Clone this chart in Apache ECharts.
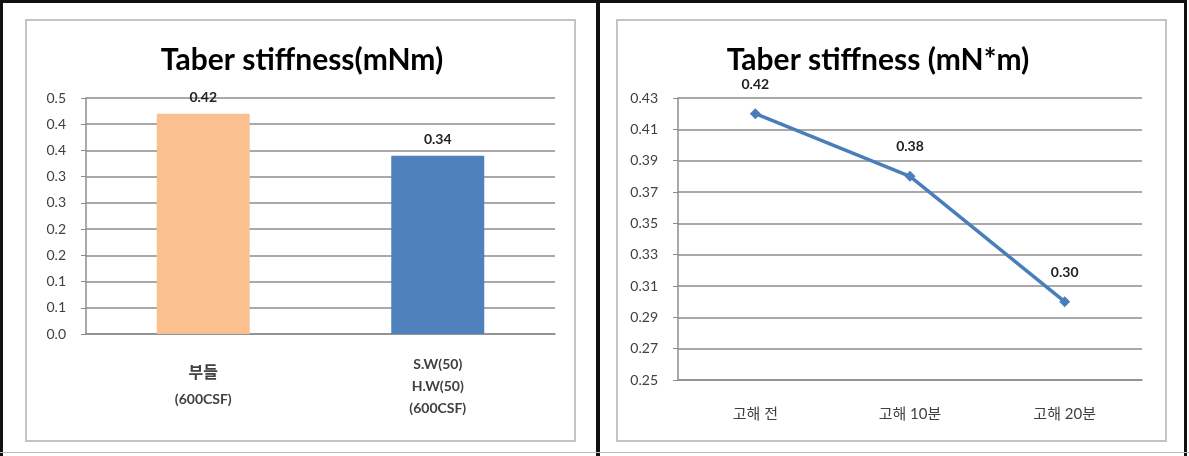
<!DOCTYPE html>
<html>
<head>
<meta charset="utf-8">
<script src="https://cdn.jsdelivr.net/npm/echarts@6/dist/echarts.min.js"></script>
<style>
  html, body { margin: 0; padding: 0; background: #fff; }
  #wrap { position: relative; width: 1189px; height: 456px; overflow: hidden; }
  .frame { position: absolute; border: 3px solid #111; border-bottom: none; }
  .box { position: absolute; border: 2px solid #c4c4c4; }
  #main { position: absolute; left: 0; top: 0; width: 1189px; height: 456px; }
</style>
</head>
<body>
<div id="wrap">
  <div class="frame" style="left:0;top:0;width:594px;height:456px;"></div>
  <div class="frame" style="left:596px;top:0;width:585px;height:456px;"></div>
  <div style="position:absolute;left:0;top:452px;width:1189px;height:1px;background:#bbb;"></div>
  <div class="box" style="left:25px;top:19px;width:547px;height:419px;"></div>
  <div class="box" style="left:616px;top:19px;width:547px;height:419px;"></div>
  <div id="main"></div>
</div>
<script>
// 왼쪽: 막대 그래프
var barCategories = ["부들\n(600CSF)", "S.W(50)\nH.W(50)\n(600CSF)"];
var barValues = [0.42, 0.34];
var barColors = ["#FAC090", "#4F81BD"];
var barTickLabels = ["0.0", "0.1", "0.1", "0.2", "0.2", "0.3", "0.3", "0.4", "0.4", "0.5"];

// 오른쪽: 꺾은선 그래프
var lineCategories = ["고해 전", "고해 10분", "고해 20분"];
var lineValues = [0.42, 0.38, 0.30];
var lineTickLabels = ["0.25", "0.27", "0.29", "0.31", "0.33", "0.35", "0.37", "0.39", "0.41", "0.43"];

var FONT = "Lato, 'Noto Sans CJK KR', sans-serif";
var GRID_COLOR = "#8c8c8c";
var TEXT_COLOR = "#404040";

var myChart = echarts.init(document.getElementById("main"));

var option = {
    animation: false,
    title: [
        {
            text: "Taber stiffness(mNm)",
            left: 297, top: 40, textAlign: "center",
            textStyle: { fontFamily: FONT, fontSize: 30, fontWeight: "bold", color: "#000" }
        },
        {
            text: "Taber stiffness (mN*m)",
            left: 873, top: 40, textAlign: "center",
            textStyle: { fontFamily: FONT, fontSize: 30, fontWeight: "bold", color: "#000" }
        }
    ],
    grid: [
        { left: 86, right: 634, top: 98, bottom: 122 },
        { left: 678, right: 47, top: 98, bottom: 76 }
    ],
    xAxis: [
        {
            type: "category", gridIndex: 0, data: barCategories,
            axisLine: { lineStyle: { color: GRID_COLOR, width: 1.5 } },
            axisTick: { length: 5, lineStyle: { color: GRID_COLOR } },
            axisLabel: {
                margin: 52, verticalAlign: "middle", color: TEXT_COLOR,
                fontFamily: FONT, fontSize: 14, fontWeight: "bold", lineHeight: 22,
                formatter: function (v) {
                    var parts = v.split("\n");
                    if (parts.length === 2) {
                        return "{big|" + parts[0] + "}\n{small|" + parts[1] + "}";
                    }
                    return parts.join("\n");
                },
                rich: {
                    big: { fontFamily: FONT, fontSize: 16, fontWeight: "bold", color: TEXT_COLOR, lineHeight: 27 },
                    small: { fontFamily: FONT, fontSize: 14, fontWeight: "bold", color: TEXT_COLOR, lineHeight: 27 }
                }
            }
        },
        {
            type: "category", gridIndex: 1, data: lineCategories,
            axisLine: { lineStyle: { color: GRID_COLOR, width: 1.5 } },
            axisTick: { length: 5, lineStyle: { color: GRID_COLOR } },
            axisLabel: {
                margin: 27, color: TEXT_COLOR, fontFamily: FONT, fontSize: 15
            }
        }
    ],
    yAxis: [
        {
            type: "value", gridIndex: 0, min: 0, max: 0.45, interval: 0.05,
            axisLine: { show: true, lineStyle: { color: GRID_COLOR, width: 1.5 } },
            axisTick: { show: true, length: 5, lineStyle: { color: GRID_COLOR } },
            splitLine: { lineStyle: { color: GRID_COLOR, width: 1.5 } },
            axisLabel: {
                margin: 20, color: TEXT_COLOR, fontFamily: FONT, fontSize: 14,
                formatter: function (v) { return barTickLabels[Math.round(v / 0.05)]; }
            }
        },
        {
            type: "value", gridIndex: 1, min: 0.25, max: 0.43, interval: 0.02,
            axisLine: { show: true, lineStyle: { color: GRID_COLOR, width: 1.5 } },
            axisTick: { show: true, length: 5, lineStyle: { color: GRID_COLOR } },
            splitLine: { lineStyle: { color: GRID_COLOR, width: 1.5 } },
            axisLabel: {
                margin: 20, color: TEXT_COLOR, fontFamily: FONT, fontSize: 14,
                formatter: function (v) { return lineTickLabels[Math.round((v - 0.25) / 0.02)]; }
            }
        }
    ],
    series: [
        {
            type: "bar", xAxisIndex: 0, yAxisIndex: 0, barWidth: 93,
            data: barValues.map(function (v, i) {
                return { value: v, itemStyle: { color: barColors[i] } };
            }),
            label: {
                show: true, position: "top", distance: 9,
                fontFamily: FONT, fontSize: 14, fontWeight: "bold", color: "#222",
                formatter: function (p) { return p.value.toFixed(2); }
            }
        },
        {
            type: "line", xAxisIndex: 1, yAxisIndex: 1, data: lineValues,
            symbol: "diamond", symbolSize: 11,
            lineStyle: { color: "#4A7EBB", width: 3.5 },
            itemStyle: { color: "#4A7EBB" },
            label: {
                show: true, position: "top", distance: 17,
                fontFamily: FONT, fontSize: 14, fontWeight: "bold", color: "#222",
                formatter: function (p) { return p.value.toFixed(2); }
            }
        }
    ]
};

myChart.setOption(option);
</script>
</body>
</html>
